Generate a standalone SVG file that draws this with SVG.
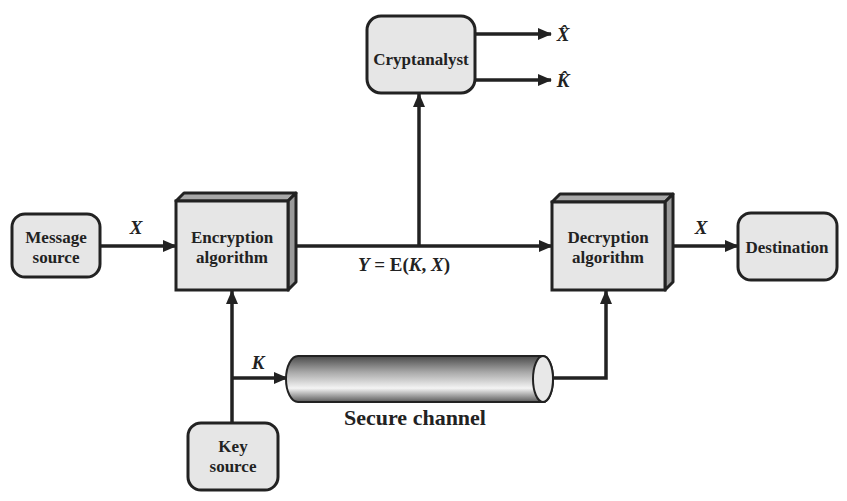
<svg xmlns="http://www.w3.org/2000/svg" width="847" height="501" viewBox="0 0 847 501">
<style>
.box{fill:#e6e6e6;stroke:#222;stroke-width:3}
.side{fill:#9a9a9a;stroke:#222;stroke-width:3;stroke-linejoin:round}
.top{fill:#a8a8a8;stroke:#222;stroke-width:3;stroke-linejoin:round}
.lbl{font-family:"Liberation Serif",serif;font-weight:bold;font-size:17px;fill:#222;text-anchor:middle}
.it{font-family:"Liberation Serif",serif;font-weight:bold;font-style:italic;font-size:19px;fill:#222;text-anchor:middle}
.ln{fill:none;stroke:#222;stroke-width:3.5}
</style>
<defs>
<marker id="ah" markerWidth="14" markerHeight="12" refX="13" refY="6" orient="auto" markerUnits="userSpaceOnUse">
<path d="M0,0 L14,6 L0,12 Z" fill="#222"/>
</marker>
<linearGradient id="cyl" x1="0" y1="0" x2="0" y2="1">
<stop offset="0" stop-color="#4a4a4a"/>
<stop offset="0.35" stop-color="#a8a8a8"/>
<stop offset="0.7" stop-color="#f4f4f4"/>
<stop offset="1" stop-color="#5a5a5a"/>
</linearGradient>
</defs>
<g id="connectors">
<line class="ln" x1="100" y1="246" x2="176" y2="246" marker-end="url(#ah)"/>
<line class="ln" x1="295" y1="246" x2="552" y2="246" marker-end="url(#ah)"/>
<line class="ln" x1="419" y1="246" x2="419" y2="94" marker-end="url(#ah)"/>
<line class="ln" x1="475" y1="34" x2="551" y2="34" marker-end="url(#ah)"/>
<line class="ln" x1="475" y1="80" x2="551" y2="80" marker-end="url(#ah)"/>
<line class="ln" x1="665" y1="246" x2="738" y2="246" marker-end="url(#ah)"/>
<line class="ln" x1="232" y1="423" x2="232" y2="291" marker-end="url(#ah)"/>
<line class="ln" x1="232" y1="378" x2="287" y2="378" marker-end="url(#ah)"/>
<polyline class="ln" points="543,378 606,378 606,291" marker-end="url(#ah)"/>
<text class="it" x="136" y="234">X</text>
<text class="it" x="701" y="234">X</text>
<text class="it" x="258" y="369">K</text>
<text x="404" y="271" style="font-family:'Liberation Serif',serif;font-weight:bold;font-size:19px;fill:#222;text-anchor:middle"><tspan font-style="italic">Y</tspan> = E(<tspan font-style="italic">K</tspan>, <tspan font-style="italic">X</tspan>)</text>
<text class="it" x="563" y="41">X̂</text>
<text class="it" x="563" y="87">K̂</text>
</g>
<g id="message-source">
<rect class="box" x="12" y="214" width="88" height="63" rx="13"/>
<text class="lbl" x="56" y="243">Message</text>
<text class="lbl" x="56" y="263">source</text>
</g>
<g id="encryption">
<polygon class="top" points="176,201 184,193 296,193 288,201"/>
<polygon class="side" points="288,201 296,193 296,282 288,290"/>
<rect class="box" x="176" y="201" width="112" height="89"/>
<text class="lbl" x="232" y="243">Encryption</text>
<text class="lbl" x="232" y="263">algorithm</text>
</g>
<g id="decryption">
<polygon class="top" points="552,202 560,194 673,194 665,202"/>
<polygon class="side" points="665,202 673,194 673,282 665,290"/>
<rect class="box" x="552" y="202" width="113" height="88"/>
<text class="lbl" x="608" y="243">Decryption</text>
<text class="lbl" x="608" y="263">algorithm</text>
</g>
<g id="cryptanalyst">
<rect class="box" x="367" y="16" width="108" height="77" rx="14"/>
<text class="lbl" x="421" y="65">Cryptanalyst</text>
</g>
<g id="destination">
<rect class="box" x="738" y="213" width="99" height="67" rx="13"/>
<text class="lbl" x="787" y="253">Destination</text>
</g>
<g id="key-source">
<rect class="box" x="188" y="423" width="90" height="67" rx="13"/>
<text class="lbl" x="233" y="452">Key</text>
<text class="lbl" x="233" y="472">source</text>
</g>
<g id="secure-channel">
<path d="M298,356 L543,356 A10,23 0 0 1 543,402 L298,402 A12,23 0 0 1 298,356 Z" fill="url(#cyl)" stroke="#222" stroke-width="2"/>
<ellipse cx="543" cy="379" rx="10" ry="23" fill="#e8e8e8" stroke="#222" stroke-width="2"/>
<text x="415" y="425" style="font-family:'Liberation Serif',serif;font-weight:bold;font-size:22px;fill:#222;text-anchor:middle">Secure channel</text>
</g>
</svg>
